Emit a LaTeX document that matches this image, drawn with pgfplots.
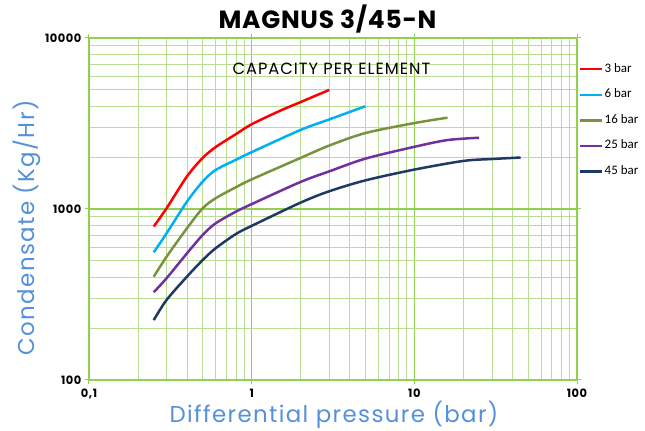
\documentclass[border=0pt]{standalone}
\usepackage{pgfplots}
\pgfplotsset{compat=1.18}
\usepackage{fontspec}
\setmainfont{Poppins}
\newfontfamily\carlito{Carlito}
\newfontfamily\lab[LetterSpace=6]{Poppins}
\newfontfamily\tit[LetterSpace=3]{Poppins}
\newfontfamily\tck[LetterSpace=5]{Poppins}
\definecolor{majg}{HTML}{92D050}
\definecolor{ming}{HTML}{B9DE94}
\definecolor{labblue}{HTML}{5590DA}
\definecolor{c3}{HTML}{FF0000}
\definecolor{c6}{HTML}{00B0F0}
\definecolor{c16}{HTML}{77933C}
\definecolor{c25}{HTML}{7030A0}
\definecolor{c45}{HTML}{1F3864}
\begin{document}
\begin{tikzpicture}
\path[use as bounding box] (-89bp,-51bp) rectangle (556bp,380bp);
\begin{axis}[
  at={(0,0)}, anchor=south west, scale only axis,
  width=488bp, height=342bp,
  xmode=log, ymode=log,
  xmin=0.1, xmax=100, ymin=100, ymax=10000,
  xtick={0.1,1,10,100}, xticklabels={{0,1},1,10,100},
  ytick={100,1000,10000}, yticklabels={100,1000,10000},
  /pgf/number format/assume math mode=true,
  tick label style={font=\tck\bfseries\fontsize{11.5}{12}\selectfont},
  xticklabel style={yshift=-1.5bp},
  grid=both,
  major grid style={draw=majg, line width=1.6bp},
  minor grid style={draw=ming, line width=0.8bp},
  axis line style={draw=majg, line width=1.6bp},
  tick style={draw=majg, line width=1bp},
  tick align=outside, major tick length=4bp, minor tick length=0pt,
  legend style={at={(1,1)}, anchor=north west, xshift=2bp, yshift=-24bp,
    draw=none, fill=none, font=\carlito\fontsize{13}{13}\selectfont,
    row sep=11.6bp, inner sep=0pt,
    nodes={inner sep=1bp, text height=9bp, text depth=3bp},
    cells={anchor=west}},
  legend image code/.code={\draw[#1, line width=2.5bp] (0bp,0bp) -- (22bp,0bp);},
  every axis plot/.append style={line width=2.5bp, smooth, tension=0.5},
  clip=false,
]
\addplot[c3] coordinates {(0.25,790)(0.3,1010)(0.4,1550)(0.5,1990)(0.6,2300)(0.8,2740)(1,3130)(1.5,3760)(2,4220)(3,4970)};
\addlegendentry{3 bar}
\addplot[c6] coordinates {(0.25,558)(0.3,721)(0.4,1104)(0.5,1446)(0.6,1690)(0.8,1940)(1,2150)(2,2900)(3,3340)(5,3990)};
\addlegendentry{6 bar}
\addplot[c16] coordinates {(0.25,402)(0.3,526)(0.4,771)(0.5,1010)(0.6,1155)(0.8,1340)(1,1490)(2,1990)(3,2350)(5,2780)(10,3180)(16,3420)};
\addlegendentry{16 bar}
\addplot[c25] coordinates {(0.25,326)(0.3,394)(0.4,550)(0.5,705)(0.6,824)(0.8,965)(1,1068)(2,1440)(3,1660)(5,1970)(10,2310)(16,2530)(25,2610)};
\addlegendentry{25 bar}
\addplot[c45] coordinates {(0.25,224)(0.3,294)(0.4,402)(0.5,503)(0.6,589)(0.8,714)(1,797)(2,1090)(3,1270)(5,1470)(10,1700)(20,1910)(30,1960)(45,2000)};
\addlegendentry{45 bar}
\end{axis}
\node[anchor=base, font=\tit\bfseries\fontsize{25}{25}\selectfont] at (238.5bp,351bp) {MAGNUS 3/45-N};
\node[anchor=base, font=\lab\fontsize{16.3}{16.3}\selectfont] at (242.5bp,305.7bp) {CAPACITY PER ELEMENT};
\node[anchor=center, rotate=90, text=labblue, font=\lab\fontsize{23}{23}\selectfont] at (-62bp,152bp) {Condensate (Kg/Hr)};
\node[anchor=base, text=labblue, font=\lab\fontsize{23}{23}\selectfont] at (245bp,-42bp) {Differential pressure (bar)};
\end{tikzpicture}
\end{document}
